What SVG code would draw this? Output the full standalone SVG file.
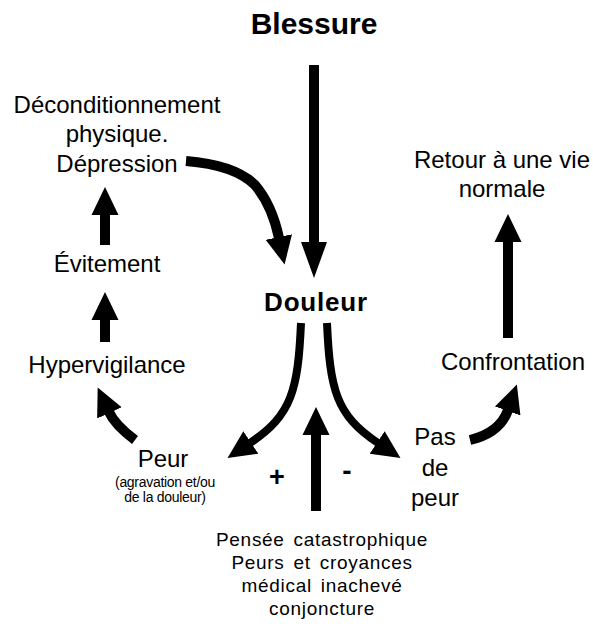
<svg xmlns="http://www.w3.org/2000/svg" width="593" height="624" viewBox="0 0 593 624">
<style>
text{font-family:"Liberation Sans",Arial,sans-serif;fill:#000;text-anchor:middle}
.lbl{font-size:24px}
.bold{font-weight:bold}
.small{font-size:14px;letter-spacing:-0.3px}
.bot{font-size:19px;letter-spacing:0.7px;word-spacing:3px}
.shaft{fill:none;stroke:#000;stroke-width:10}
.thin{stroke-width:8}
</style>
<defs>
<marker id="head" markerUnits="userSpaceOnUse" viewBox="0 -15 30 30" refX="1" refY="0" markerWidth="30" markerHeight="30" orient="auto">
<path d="M0,-13.5 L28,0 L0,13.5 z" fill="#000"/>
</marker>
<marker id="headLong" markerUnits="userSpaceOnUse" viewBox="0 -15 42 30" refX="1" refY="0" markerWidth="42" markerHeight="30" orient="auto">
<path d="M0,-13 L36,0 L0,13 z" fill="#000"/>
</marker>
</defs>
<rect width="593" height="624" fill="#fff"/>
<g id="connectors">
<path class="shaft" d="M314 65 V243" marker-end="url(#headLong)"/>
<path class="shaft" d="M186 161 Q235 165 255 185 Q272 205 279 238" marker-end="url(#head)"/>
<path class="shaft" d="M105 245 V214" marker-end="url(#head)"/>
<path class="shaft" d="M105 342 V319" marker-end="url(#head)"/>
<path class="shaft" d="M508 338 V241" marker-end="url(#head)"/>
<path class="shaft" d="M316 511 V434" marker-end="url(#head)"/>
<path class="shaft thin" d="M301 323 C298 390 292 415 250 443" marker-end="url(#head)"/>
<path class="shaft thin" d="M327 323 C330 390 336 415 378 443" marker-end="url(#head)"/>
<path class="shaft" d="M135 440 Q115 425 109 412" marker-end="url(#head)"/>
<path class="shaft" d="M470 440 Q500 433 508 410" marker-end="url(#head)"/>
</g>
<g id="blessure"><text class="bold" x="314" y="34" font-size="30">Blessure</text></g>
<g id="deconditionnement">
<text class="lbl" x="117" y="113">Déconditionnement</text>
<text class="lbl" x="117" y="142">physique.</text>
<text class="lbl" x="117" y="172">Dépression</text>
</g>
<g id="retour">
<text class="lbl" x="502" y="168">Retour à une vie</text>
<text class="lbl" x="502" y="197">normale</text>
</g>
<g id="evitement"><text class="lbl" x="107" y="272">Évitement</text></g>
<g id="douleur"><text class="bold" x="316" y="311" font-size="26" letter-spacing="0.8">Douleur</text></g>
<g id="hypervigilance"><text class="lbl" x="107" y="373">Hypervigilance</text></g>
<g id="confrontation"><text class="lbl" x="513" y="370">Confrontation</text></g>
<g id="peur">
<text class="lbl" x="163" y="467">Peur</text>
<text class="small" x="165" y="487">(agravation et/ou</text>
<text class="small" x="165" y="502">de la douleur)</text>
</g>
<g id="pasdepeur">
<text class="lbl" x="435" y="445">Pas</text>
<text class="lbl" x="435" y="476">de</text>
<text class="lbl" x="435" y="506">peur</text>
</g>
<g id="signs">
<text class="bold" x="277" y="486" font-size="27">+</text>
<text class="bold" x="347" y="480" font-size="28">-</text>
</g>
<g id="facteurs">
<text class="bot" x="322" y="546">Pensée catastrophique</text>
<text class="bot" x="322" y="569">Peurs et croyances</text>
<text class="bot" x="322" y="592">médical inachevé</text>
<text class="bot" x="322" y="615">conjoncture</text>
</g>
</svg>
